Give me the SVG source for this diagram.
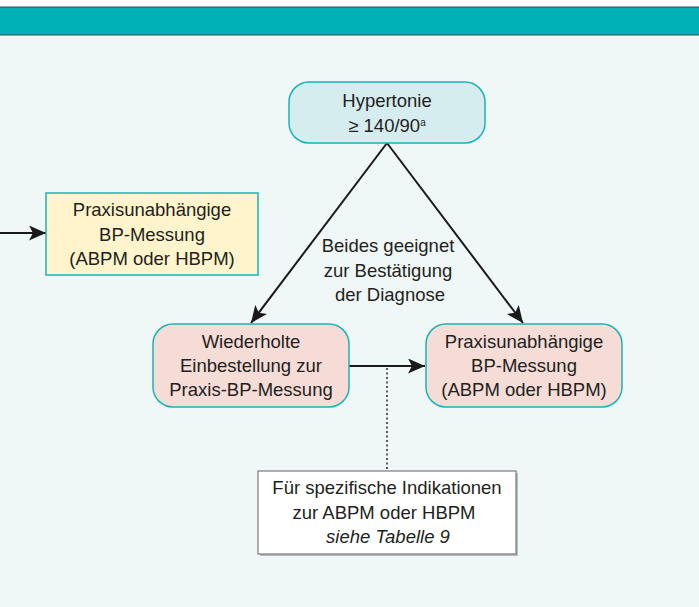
<svg xmlns="http://www.w3.org/2000/svg" width="699" height="607" viewBox="0 0 699 607">
  <defs>
    <marker id="arr" markerWidth="17" markerHeight="15" refX="17" refY="7.5" orient="auto" markerUnits="userSpaceOnUse">
      <path d="M0,0 L17,7.5 L0,15 L4,7.5 Z" fill="#1a1a1a"/>
    </marker>
    <style>
      .t { font-family: "Liberation Sans", Arial, sans-serif; font-size: 18.5px; fill: #231f20; text-anchor: middle; }
      .it { font-style: italic; }
      .conn { stroke: #1a1a1a; stroke-width: 2; fill: none; }
      .dot { stroke: #333; stroke-width: 1.6; stroke-dasharray: 2 2.5; fill: none; }
      .pink { fill: #f5dcd7; stroke: #1ab3b8; stroke-width: 1.5; }
    </style>
  </defs>
  <rect x="0" y="0" width="699" height="607" fill="#eff8f7"/>
  <rect x="0" y="0" width="699" height="7" fill="#ffffff"/>
  <rect x="0" y="7" width="699" height="28" fill="#00b1b8"/>
  <line x1="0" y1="7" x2="699" y2="7" stroke="#3a4a4c" stroke-width="1"/>
  <line x1="0" y1="35" x2="699" y2="35" stroke="#3a4a4c" stroke-width="1"/>

  <g id="connectors">
    <line class="conn" x1="387" y1="143" x2="251" y2="323" marker-end="url(#arr)"/>
    <line class="conn" x1="387" y1="143" x2="523" y2="323" marker-end="url(#arr)"/>
    <line class="conn" x1="349" y1="366" x2="425" y2="366" marker-end="url(#arr)"/>
    <line class="conn" x1="0" y1="233" x2="46" y2="233" marker-end="url(#arr)"/>
    <line class="dot" x1="387" y1="368" x2="387" y2="471"/>
  </g>

  <g id="label-beides">
    <text class="t" x="388" y="252">Beides geeignet</text>
    <text class="t" x="388" y="277">zur Bestätigung</text>
    <text class="t" x="390" y="301">der Diagnose</text>
  </g>

  <g id="node-hypertonie">
    <rect x="289" y="82" width="196" height="61" rx="20" fill="#d6edef" stroke="#1ab3b8" stroke-width="1.5"/>
    <text class="t" x="387" y="107">Hypertonie</text>
    <text class="t" x="387" y="132">≥ 140/90<tspan font-size="10" dy="-6">a</tspan></text>
  </g>

  <g id="node-yellow">
    <rect x="46" y="193" width="212" height="82" fill="#fff4cc" stroke="#1ab3b8" stroke-width="1.5"/>
    <text class="t" x="152" y="216">Praxisunabhängige</text>
    <text class="t" x="152" y="241">BP-Messung</text>
    <text class="t" x="152" y="265">(ABPM oder HBPM)</text>
  </g>

  <g id="node-wiederholte">
    <rect class="pink" x="153" y="324" width="196" height="83" rx="20"/>
    <text class="t" x="251" y="348">Wiederholte</text>
    <text class="t" x="251" y="372">Einbestellung zur</text>
    <text class="t" x="251" y="396">Praxis-BP-Messung</text>
  </g>

  <g id="node-praxis">
    <rect class="pink" x="426" y="324" width="196" height="83" rx="20"/>
    <text class="t" x="524" y="348">Praxisunabhängige</text>
    <text class="t" x="524" y="372">BP-Messung</text>
    <text class="t" x="524" y="396">(ABPM oder HBPM)</text>
  </g>

  <g id="node-note">
    <rect x="260" y="473" width="258" height="83" fill="#b8bcbc"/>
    <rect x="258" y="471" width="258" height="83" fill="#ffffff" stroke="#7a7a7a" stroke-width="1.2"/>
    <text class="t" x="387" y="494">Für spezifische Indikationen</text>
    <text class="t" x="384" y="519">zur ABPM oder HBPM</text>
    <text class="t it" x="388" y="543">siehe Tabelle 9</text>
  </g>
</svg>
